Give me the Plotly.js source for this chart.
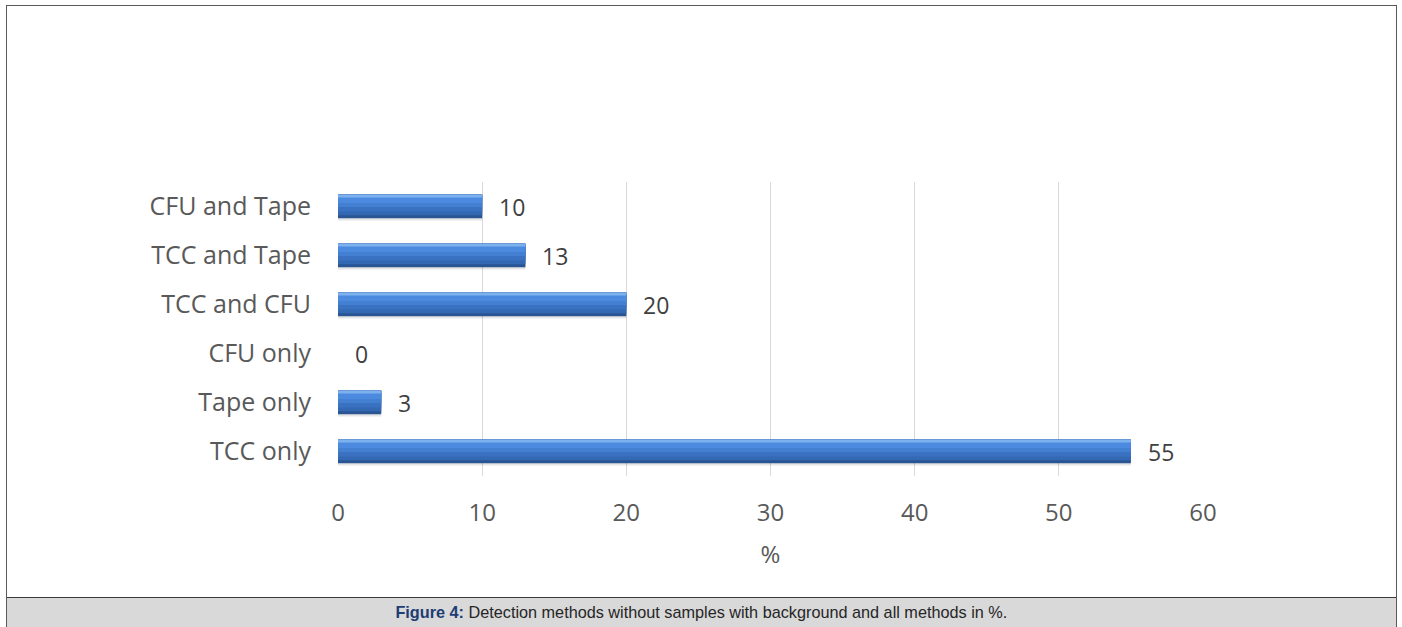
<!DOCTYPE html>
<html>
<head>
<meta charset="utf-8">
<script src="https://cdn.plot.ly/plotly-3.0.1.min.js"></script>
<style>
  html, body { margin: 0; padding: 0; background: #ffffff; }
  #wrap { position: relative; width: 1402px; height: 627px; overflow: hidden; }
  #chart { position: absolute; left: 0; top: 0; width: 1402px; height: 627px; }
  #frame {
    position: absolute; left: 6px; top: 5px; width: 1389px; height: 640px;
    border: 1px solid #5a5a5a; pointer-events: none;
  }
  #caption {
    position: absolute; left: 7px; top: 597px; width: 1389px; height: 30px;
    background: #d9d9d9; border-top: 1px solid #3a3a3a;
    font-family: "Liberation Sans", Arial, sans-serif; font-size: 17px;
    color: #262626; text-align: center; line-height: 29px;
  }
  #caption span { display: inline-block; transform: scaleX(0.955); transform-origin: center; white-space: nowrap; }
  #caption b { color: #1d3d73; }
</style>
</head>
<body>
<div id="wrap">
  <div id="chart"></div>
  <div id="frame"></div>
  <div id="caption"><span><b>Figure 4:</b> Detection methods without samples with background and all methods in %.</span></div>
</div>
<script>
// Detection method combinations, listed top to bottom
const methods = ["CFU and Tape", "TCC and Tape", "TCC and CFU", "CFU only", "Tape only", "TCC only"];
const percents = [10, 13, 20, 0, 3, 55];
const xTicks = [0, 10, 20, 30, 40, 50, 60];

const tickFont = { family: "'Open Sans', sans-serif", size: 24, color: "#595959" };
const categoryFont = { family: "'Open Sans', sans-serif", size: 25, color: "#595959" };

// Layered bars give each bar a shaded, bevelled look
function barLayer(color, offset, width) {
  return {
    type: "bar", orientation: "h",
    x: percents, y: methods,
    offset: offset, width: width,
    marker: { color: color, line: { width: 0 } },
    hoverinfo: "skip", showlegend: false
  };
}

const traces = [
  barLayer("rgba(0,0,0,0.10)", -0.225, 0.51),   // soft drop shadow
  barLayer("#2a5593", -0.24, 0.48),             // dark lower edge
  barLayer("#3368b3", -0.24, 0.42),             // lower body
  barLayer("#3a72c1", -0.24, 0.34),             // body
  barLayer("#4380d2", -0.24, 0.25),             // upper body
  barLayer("#4b8ade", -0.24, 0.17),             // upper highlight
  barLayer("#7db1ee", -0.235, 0.05)             // top rim
];

// Value labels beside each bar
const valueLabels = methods.map((m, i) => ({
  x: percents[i], y: m, xref: "x", yref: "y",
  text: String(percents[i]), showarrow: false,
  xanchor: "left", yanchor: "middle", xshift: 15,
  font: { family: "'Open Sans', sans-serif", size: 23, color: "#404040" }
}));

const layout = {
  width: 1402, height: 627,
  margin: { l: 338, r: 199, t: 182, b: 151 },
  paper_bgcolor: "#ffffff", plot_bgcolor: "#ffffff",
  barmode: "overlay",
  xaxis: {
    range: [0, 60], tickvals: xTicks, ticktext: xTicks.map(String),
    showgrid: true, gridcolor: "#d9d9d9", gridwidth: 1,
    zeroline: false, showline: false, ticks: "",
    tickfont: tickFont, ticklabelstandoff: 20,
    title: { text: "%", font: tickFont, standoff: 19 },
    fixedrange: true
  },
  yaxis: {
    type: "category", autorange: "reversed",
    showgrid: false, zeroline: false, showline: false, ticks: "",
    tickfont: categoryFont, ticklabelstandoff: 26,
    fixedrange: true
  },
  annotations: valueLabels,
  font: tickFont
};

Plotly.newPlot("chart", traces, layout, { displayModeBar: false, staticPlot: true });
</script>
</body>
</html>
